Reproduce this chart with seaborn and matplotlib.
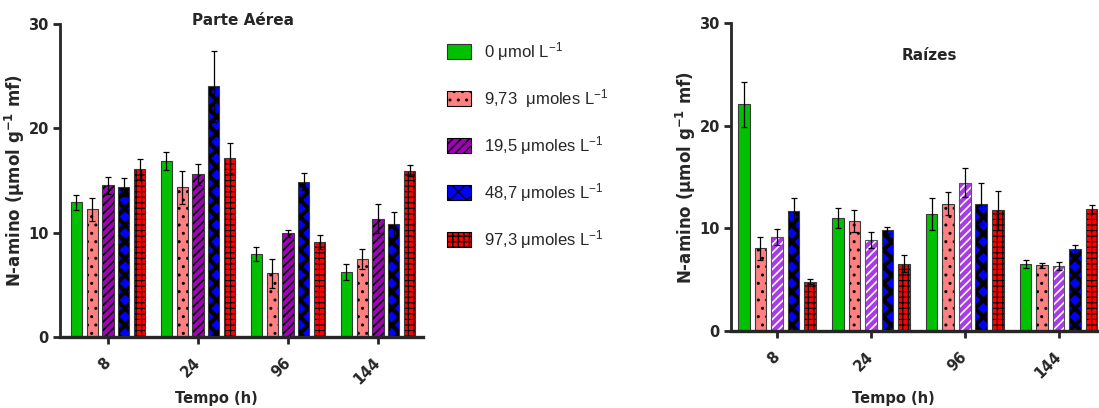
import numpy as np
import pandas as pd
import matplotlib
matplotlib.use("Agg")
import matplotlib.pyplot as plt
import matplotlib.patches as mpatches
import matplotlib.colors as mcolors
from matplotlib.container import BarContainer
import seaborn as sns

# ---------------- data ----------------
tempo = ["8", "24", "96", "144"]
doses = ["0 μmol L$^{-1}$", "9,73  μmoles L$^{-1}$", "19,5 μmoles L$^{-1}$",
         "48,7 μmoles L$^{-1}$", "97,3 μmoles L$^{-1}$"]

aerea_0 = [12.9, 16.9, 7.95, 6.2]
aerea_973 = [12.25, 14.35, 6.1, 7.45]
aerea_195 = [14.55, 15.6, 9.95, 11.35]
aerea_487 = [14.35, 24.05, 14.9, 10.8]
aerea_973b = [16.1, 17.15, 9.1, 15.95]
aerea_err_0 = [0.75, 0.85, 0.65, 0.75]
aerea_err_973 = [1.1, 1.6, 1.4, 0.95]
aerea_err_195 = [0.8, 1.0, 0.35, 1.35]
aerea_err_487 = [0.85, 3.4, 0.85, 1.2]
aerea_err_973b = [1.0, 1.4, 0.7, 0.5]

raiz_0 = [22.1, 11.0, 11.4, 6.5]
raiz_973 = [8.05, 10.7, 12.4, 6.4]
raiz_195 = [9.15, 8.85, 14.45, 6.35]
raiz_487 = [11.65, 9.8, 12.35, 7.95]
raiz_973b = [4.8, 6.55, 11.75, 11.85]
raiz_err_0 = [2.2, 1.0, 1.55, 0.4]
raiz_err_973 = [1.15, 1.05, 1.1, 0.25]
raiz_err_195 = [0.8, 0.8, 1.4, 0.4]
raiz_err_487 = [1.35, 0.35, 2.05, 0.45]
raiz_err_973b = [0.25, 0.85, 1.9, 0.4]

aerea_vals = [aerea_0, aerea_973, aerea_195, aerea_487, aerea_973b]
aerea_errs = [aerea_err_0, aerea_err_973, aerea_err_195, aerea_err_487, aerea_err_973b]
raiz_vals = [raiz_0, raiz_973, raiz_195, raiz_487, raiz_973b]
raiz_errs = [raiz_err_0, raiz_err_973, raiz_err_195, raiz_err_487, raiz_err_973b]

colors_left = ["#00C000", "#FF8080", "#A000B8", "#0000FF", "#FF0000"]
colors_right = ["#00C000", "#FF8080", "#A83AE8", "#0000FF", "#FF0000"]
hatches = [None, "..", "////", "xx", "+++"]
hatch_col_left = ["#333333", "black", "black", "black", "black"]
hatch_col_right = ["#333333", "black", "white", "black", "black"]
hatch_lw = [1.0, 1.0, 1.2, 3.0, 0.8]


def long_df(vals):
    rows = []
    for d, series in zip(doses, vals):
        for t, v in zip(tempo, series):
            rows.append({"Tempo": t, "Dose": d, "Valor": v})
    return pd.DataFrame(rows)


sns.set_style("ticks")
plt.rcParams["font.family"] = ["DejaVu Sans"]
plt.rcParams["mathtext.default"] = "regular"
plt.rcParams["hatch.linewidth"] = 1.0

W, H = 1099, 408
fig = plt.figure(figsize=(W / 100, H / 100), dpi=100)


def style_patch(p, fc, hc, hatch, lw):
    p.set_facecolor(fc)
    p.set_edgecolor("#3a3a3a" if hc != "white" else "#555555")
    p.set_linewidth(0.8)
    if hatch:
        p.set_hatch(hatch)
        if hasattr(p, "set_hatchcolor"):
            p.set_hatchcolor(hc)
        else:
            p._hatch_color = mcolors.to_rgba(hc)
        if hasattr(p, "set_hatch_linewidth"):
            p.set_hatch_linewidth(lw)
        else:
            p._hatch_linewidth = lw


def panel(rect, vals, errs, colors, hcols, xlim, title, title_xy, xlabel_xy):
    ax = fig.add_axes(rect)
    df = long_df(vals)
    sns.barplot(data=df, x="Tempo", y="Valor", hue="Dose", hue_order=doses,
                order=tempo, palette=colors, width=0.88, gap=0.3,
                errorbar=None, legend=False, ax=ax)
    bars = [c for c in ax.containers if isinstance(c, BarContainer)]
    for i, cont in enumerate(bars):
        xs = []
        for p in cont.patches:
            style_patch(p, colors[i], hcols[i], hatches[i], hatch_lw[i])
            xs.append(p.get_x() + p.get_width() / 2)
        ax.errorbar(xs, vals[i], yerr=errs[i], fmt="none", ecolor="black",
                    elinewidth=0.9, capsize=2.5, capthick=0.9, zorder=4)
    ax.set_ylim(0, 30)
    ax.set_yticks([0, 10, 20, 30])
    ax.set_xlim(*xlim)
    for s in ["top", "right"]:
        ax.spines[s].set_visible(False)
    ax.spines["left"].set_linewidth(2.0)
    ax.spines["bottom"].set_linewidth(2.4)
    ax.tick_params(axis="y", direction="out", length=5, width=2,
                   labelsize=10.5, pad=3)
    ax.tick_params(axis="x", direction="out", length=5, width=2,
                   labelsize=10.5, pad=12)
    for lab in ax.get_yticklabels():
        lab.set_fontweight("bold")
    ax.set_xticks(range(len(tempo)))
    ax.set_xticklabels(tempo, rotation=45, ha="right", va="center",
                       rotation_mode="anchor", fontweight="bold", fontsize=10.5)
    ax.set_ylabel("N-amino (μmol g$^{-1}$ mf)", fontsize=12, fontweight="bold")
    ax.set_xlabel("Tempo (h)", fontsize=10.5, fontweight="bold", va="center")
    ax.xaxis.set_label_coords(*xlabel_xy)
    ax.text(title_xy[0], title_xy[1], title, transform=ax.transAxes,
            ha="center", va="center", fontsize=11, fontweight="bold")
    return ax


axL = panel([60 / W, 1 - 337 / H, 363 / W, 313 / H], aerea_vals, aerea_errs,
            colors_left, hatch_col_left, (-0.533, 3.5), "Parte Aérea",
            (0.504, 1.01), (0.432, -0.195))
axL.yaxis.set_label_coords(-0.09, 0.5)

axR = panel([731 / W, 1 - 331 / H, 368 / W, 308 / H], raiz_vals, raiz_errs,
            colors_right, hatch_col_right, (-0.49, 3.43), "Raízes",
            (0.54, 0.895), (0.44, -0.218))
axR.yaxis.set_label_coords(-0.09, 0.5)

# legend
handles = []
for i, d in enumerate(doses):
    h = mpatches.Patch(facecolor=colors_left[i], edgecolor=hatch_col_left[i],
                       hatch=hatches[i], linewidth=0.8, label=d)
    handles.append(h)
leg = fig.legend(handles=handles, loc="upper left",
                 bbox_to_anchor=(447 / W, 1 - 40 / H), frameon=False,
                 handlelength=1.45, handleheight=1.0,
                 handletextpad=0.8, labelspacing=1.45, borderpad=0,
                 borderaxespad=0, prop={"family": "Liberation Sans", "size": 12})

fig.savefig("out.png", dpi=100)
